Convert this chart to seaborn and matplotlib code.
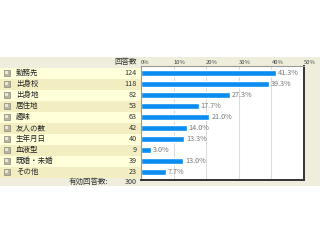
import matplotlib
matplotlib.use("Agg")
import matplotlib.pyplot as plt
import seaborn as sns
import pandas as pd
from matplotlib.patches import Rectangle

categories = ["勤務先", "出身校", "出身地", "居住地", "趣味", "友人の数", "生年月日", "血液型", "既婚・未婚", "その他"]
counts = [124, 118, 82, 53, 63, 42, 40, 9, 39, 23]
percents = [41.3, 39.3, 27.3, 17.7, 21.0, 14.0, 13.3, 3.0, 13.0, 7.7]
tick_values = [0, 10, 20, 30, 40, 50]
tick_labels = ["0%", "10%", "20%", "30%", "40%", "50%"]
total_label = "有効回答数:"
total_value = 300
count_header = "回答数"

sns.set_theme(style="white")
plt.rcParams['font.family'] = ['Noto Sans CJK JP', 'DejaVu Sans']

df = pd.DataFrame({"cat": categories, "pct": percents})

fig = plt.figure(figsize=(3.2, 2.4), dpi=100)
fig.patch.set_facecolor("white")

# background axes in pixel coordinates
bg = fig.add_axes([0, 0, 1, 1])
bg.set_xlim(0, 320)
bg.set_ylim(240, 0)
bg.axis("off")

bg.add_patch(Rectangle((0, 57), 320, 129, facecolor="#efeedc", edgecolor="none"))
row_h = 11
y0 = 67.5
for i, (c, n) in enumerate(zip(categories, counts)):
    top = y0 + i * row_h
    col = "#ffffda" if i % 2 == 0 else "#f2eec2"
    bg.add_patch(Rectangle((0, top), 141, row_h, facecolor=col, edgecolor="none"))
    cy = top + row_h / 2
    bg.add_patch(Rectangle((4, cy - 3), 6, 6, facecolor="#b8b4a0", edgecolor="#8a8878", lw=0.5))
    bg.add_patch(Rectangle((5, cy - 2), 3, 3, facecolor="#e8e6da", edgecolor="none"))
    bg.text(16, cy, c, fontsize=5.4, va="center", ha="left", color="#222222")
    bg.text(137, cy, str(n), fontsize=5.2, va="center", ha="right", color="#333333")

bg.text(137, 62, count_header, fontsize=5.4, va="center", ha="right", color="#333333")
fy = y0 + len(categories) * row_h + 4.5
bg.text(108, fy, total_label, fontsize=5.4, va="center", ha="right", color="#333333")
bg.text(137, fy, str(total_value), fontsize=5.2, va="center", ha="right", color="#333333")

# bar axes
ax = fig.add_axes([141 / 320, 60 / 240, 163 / 320, 114 / 240])
sns.barplot(data=df, x="pct", y="cat", orient="h", color="#0a8cf0",
            saturation=1, width=0.52, ax=ax)
ax.set_facecolor("white")
ax.set_xlim(0, 50)
ax.set_ylim(9 + 8 / 11, -7 / 11)
ax.set_xlabel("")
ax.set_ylabel("")
ax.set_yticks([])
ax.set_xticks(tick_values)
ax.set_xticklabels([])
ax.tick_params(length=0)
for v in tick_values[1:-1]:
    ax.axvline(v, color="#dddddd", lw=0.8, zorder=0)
for v, lab in zip(tick_values, tick_labels):
    ax.text(v, -0.95, lab, fontsize=4.2, ha="left", va="center", color="#444444", clip_on=False)
for i, p in enumerate(percents):
    ax.text(p + 0.6, i, f"{p:.1f}%", fontsize=5.2, ha="left", va="center", color="#777777")
for s in ["left", "top"]:
    ax.spines[s].set_color("#999999")
    ax.spines[s].set_linewidth(0.8)
for s in ["right", "bottom"]:
    ax.spines[s].set_color("#333333")
    ax.spines[s].set_linewidth(1.4)

fig.savefig("out.png", dpi=100)
